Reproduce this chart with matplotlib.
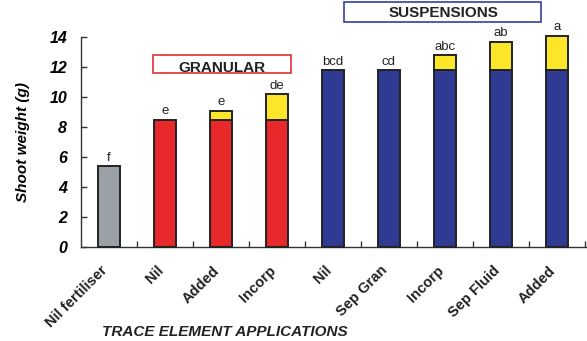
import numpy as np
import matplotlib.pyplot as plt
from matplotlib.patches import Rectangle

plt.rcParams['font.family'] = ['Liberation Sans', 'DejaVu Sans']

# shoot weight (g) by trace element treatment
labels = ['Nil fertiliser', 'Nil', 'Added', 'Incorp', 'Nil',
          'Sep Gran', 'Incorp', 'Sep Fluid', 'Added']
base = [5.4, 8.5, 8.5, 8.5, 11.8, 11.8, 11.8, 11.8, 11.8]
totals = [5.4, 8.5, 9.1, 10.2, 11.8, 11.8, 12.8, 13.7, 14.1]
letters = ['f', 'e', 'e', 'de', 'bcd', 'cd', 'abc', 'ab', 'a']
groups = ['none', 'gran', 'gran', 'gran', 'susp', 'susp', 'susp', 'susp', 'susp']

colours = {'none': '#9aa0a6', 'gran': '#e8292b', 'susp': '#2f3a93'}
yellow = '#fbe629'
edge = '#222222'

x = np.arange(len(labels))
extra = np.array(totals) - np.array(base)

fig = plt.figure(figsize=(5.87, 3.41), dpi=100)
ax = fig.add_axes([0.138, 0.276, 0.862, 0.615])

b1 = ax.bar(x, base, width=0.4, color=[colours[g] for g in groups],
            edgecolor=edge, linewidth=1.4, zorder=3, clip_on=False)
b2 = ax.bar(x, extra, width=0.4, bottom=base, color=yellow,
            edgecolor=edge, linewidth=1.4, zorder=3, clip_on=False)
# no yellow stub where there was no extra growth
for p, e in zip(b2.patches, extra):
    if e <= 0:
        p.set_visible(False)

for xi, t, l in zip(x, totals, letters):
    ax.text(xi, t + 0.15, l, ha='center', va='bottom', fontsize=9.5,
            color='#222222', clip_on=False)

ax.set_xlim(-0.5, 8.54)
ax.set_ylim(0, 14)
ax.set_yticks(range(0, 15, 2))
ax.set_xticks(x + 0.5)
ax.set_xticklabels([])
ax.tick_params(axis='x', direction='in', length=4, width=1, color='#333333')
ax.tick_params(axis='y', direction='in', length=4, width=1, color='#333333',
               labelsize=11.5, pad=10)
for lab in ax.get_yticklabels():
    lab.set_fontweight('bold')
    lab.set_fontstyle('italic')

# category names sit under the bars, rotated
for xi, l in zip(x, labels):
    ax.text(xi - 0.15, -1.1, l, rotation=45, ha='right', va='top',
            rotation_mode='anchor', fontsize=10.5, fontweight='bold',
            color='#222222')

for side in ['top', 'right']:
    ax.spines[side].set_visible(False)
for side in ['left', 'bottom']:
    ax.spines[side].set_color('#333333')
    ax.spines[side].set_linewidth(1)

ax.set_ylabel('Shoot weight (g)', fontsize=11, fontweight='bold',
              fontstyle='italic', labelpad=14)
fig.text(0.174, 0.026, 'TRACE ELEMENT APPLICATIONS', fontsize=11,
         va='center', fontweight='bold', fontstyle='italic', color='#222222')

# group headings
ax.add_patch(Rectangle((0.79, 11.6), 2.46, 1.2, fill=False, edgecolor='#e03030',
                       linewidth=1.2, clip_on=False, zorder=4))
ax.text(2.02, 11.95, 'GRANULAR', ha='center', va='center', fontsize=11,
        fontweight='bold', color='#222222', zorder=5)
ax.add_patch(Rectangle((4.2, 15.0), 3.51, 1.33, fill=False, edgecolor='#3540a0',
                       linewidth=1.2, clip_on=False, zorder=4))
ax.text(5.98, 15.6, 'SUSPENSIONS', ha='center', va='center', fontsize=11,
        fontweight='bold', color='#222222', clip_on=False, zorder=5)

fig.savefig('out.png', dpi=100)
